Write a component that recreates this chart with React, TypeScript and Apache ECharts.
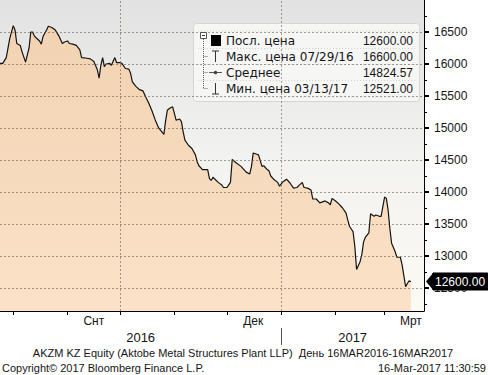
import React, { useEffect, useRef } from "react";
import * as echarts from "echarts";

// ---- data ----
const PRICE_DATES = [
  "2016-07-22", "2016-07-26", "2016-07-28", "2016-07-30", "2016-08-01", "2016-08-02", "2016-08-03", "2016-08-05",
  "2016-08-06", "2016-08-08", "2016-08-10", "2016-08-11", "2016-08-12", "2016-08-13", "2016-08-14", "2016-08-16",
  "2016-08-17", "2016-08-18", "2016-08-20", "2016-08-21", "2016-08-23", "2016-08-25", "2016-08-27", "2016-08-29",
  "2016-08-30", "2016-09-01", "2016-09-02", "2016-09-04", "2016-09-06", "2016-09-08", "2016-09-09", "2016-09-12",
  "2016-09-14", "2016-09-16", "2016-09-18", "2016-09-19", "2016-09-20", "2016-09-21", "2016-09-22", "2016-09-23",
  "2016-09-25", "2016-09-26", "2016-09-28", "2016-09-29", "2016-10-01", "2016-10-02", "2016-10-04", "2016-10-06",
  "2016-10-07", "2016-10-08", "2016-10-10", "2016-10-12", "2016-10-14", "2016-10-16", "2016-10-17", "2016-10-19",
  "2016-10-21", "2016-10-23", "2016-10-26", "2016-10-27", "2016-10-28", "2016-10-30", "2016-10-31", "2016-11-02",
  "2016-11-04", "2016-11-05", "2016-11-06", "2016-11-07", "2016-11-09", "2016-11-11", "2016-11-13", "2016-11-14",
  "2016-11-15", "2016-11-17", "2016-11-20", "2016-11-21", "2016-11-22", "2016-11-23", "2016-11-26", "2016-11-28",
  "2016-11-29", "2016-12-01", "2016-12-02", "2016-12-03", "2016-12-04", "2016-12-06", "2016-12-09", "2016-12-12",
  "2016-12-14", "2016-12-15", "2016-12-16", "2016-12-18", "2016-12-19", "2016-12-21", "2016-12-22", "2016-12-24",
  "2016-12-25", "2016-12-26", "2016-12-28", "2016-12-30", "2016-12-31", "2017-01-02", "2017-01-04", "2017-01-06",
  "2017-01-08", "2017-01-10", "2017-01-11", "2017-01-13", "2017-01-14", "2017-01-16", "2017-01-18", "2017-01-19",
  "2017-01-21", "2017-01-23", "2017-01-25", "2017-01-26", "2017-01-28", "2017-01-29", "2017-01-30", "2017-02-01",
  "2017-02-03", "2017-02-05", "2017-02-07", "2017-02-08", "2017-02-09", "2017-02-11", "2017-02-12", "2017-02-13",
  "2017-02-15", "2017-02-16", "2017-02-17", "2017-02-18", "2017-02-20", "2017-02-21", "2017-02-23", "2017-02-24",
  "2017-02-26", "2017-02-27", "2017-03-01", "2017-03-02", "2017-03-03", "2017-03-04", "2017-03-05", "2017-03-07",
  "2017-03-08", "2017-03-10", "2017-03-11", "2017-03-13", "2017-03-14", "2017-03-15", "2017-03-16",
];
const PRICE_VALUES = [
  16010, 16010, 16100, 16400, 16600, 16530, 16320, 16290,
  16190, 16030, 16250, 16500, 16500, 16440, 16410, 16360,
  16310, 16430, 16530, 16590, 16570, 16530, 16440, 16320,
  16340, 16360, 16320, 16310, 16290, 16220, 16100, 16090,
  16080, 16040, 15910, 15780, 15980, 16100, 15960, 16000,
  16010, 15980, 16100, 16020, 16020, 16010, 15930, 15920,
  15850, 15720, 15650, 15600, 15580, 15460, 15410, 15280,
  15130, 15000, 14900, 15120, 15280, 15320, 15330, 15120,
  15140, 15100, 14940, 14810, 14730, 14680, 14580, 14470,
  14410, 14350, 14350, 14210, 14180, 14230, 14150, 14110,
  14070, 14070, 14110, 14150, 14510, 14460, 14400, 14310,
  14280, 14400, 14610, 14590, 14580, 14400, 14410, 14350,
  14330, 14250, 14190, 14150, 14090, 14160, 14200, 14140,
  14060, 14070, 14100, 14150, 14070, 14060, 14030, 13890,
  13890, 13830, 13850, 13860, 13830, 13800, 13900, 13860,
  13810, 13750, 13670, 13560, 13460, 13380, 13150, 12790,
  12910, 13020, 13220, 13290, 13360, 13660, 13620, 13640,
  13620, 13620, 13920, 13900, 13720, 13430, 13200, 13070,
  12980, 12980, 12860, 12521, 12570, 12610, 12600,
];

const Y_TICKS = [12500, 13000, 13500, 14000, 14500, 15000, 15500, 16000, 16500];
const Y_MINOR_TICKS = [12250, 12750, 13250, 13750, 14250, 14750, 15250, 15750, 16250, 16750];
const MONTH_STARTS = ["2016-08-01", "2016-09-01", "2016-10-01", "2016-11-01", "2016-12-01", "2017-01-01", "2017-02-01", "2017-03-01"];
const QUARTER_STARTS = ["2016-10-01", "2017-01-01"];
const MONTH_LABEL_DATES = ["2016-09-16", "2016-12-16", "2017-03-16"];
const RU_MONTHS = ["Янв", "Фев", "Мрт", "Апр", "Май", "Июн", "Июл", "Авг", "Снт", "Окт", "Нбр", "Дек"];
const YEAR_BOUNDARY = "2017-01-01";

const STAT_LABELS = ["Посл. цена", "Макс. цена 07/29/16", "Среднее", "Мин. цена 03/13/17"];
const STAT_VALUES = ["12600.00", "16600.00", "14824.57", "12521.00"];

const FOOTER_TITLE = "AKZM KZ Equity (Aktobe Metal Structures Plant LLP)  День 16MAR2016-16MAR2017";
const FOOTER_COPYRIGHT = "Copyright© 2017 Bloomberg Finance L.P.";
const FOOTER_STAMP = "16-Mar-2017 11:30:59";

const Y_MIN = 12140;
const Y_MAX = 17000;

const ts = (s: string) => {
  const [y, m, d] = s.split("-").map(Number);
  return new Date(y, m - 1, d).getTime();
};
const X_MIN = new Date(2016, 6, 24, 10).getTime();
const X_MAX = new Date(2017, 2, 23, 12).getTime();

const FONT = "Tahoma, 'Liberation Sans', Arial, sans-serif";
const LEGEND_FONT = "'DejaVu Sans', Verdana, sans-serif";
const TXT = "#151515";

export default function App() {
  const ref = useRef<HTMLDivElement>(null);

  useEffect(() => {
    document.body.style.margin = "0";
    if (!ref.current) return;
    const chart = echarts.init(ref.current, null, { renderer: "svg" });

    const data = PRICE_DATES.map((d, i) => [ts(d), PRICE_VALUES[i]]);
    const last = PRICE_VALUES[PRICE_VALUES.length - 1];
    const yb = ts(YEAR_BOUNDARY);
    const yearMids = [(X_MIN + yb) / 2, (yb + X_MAX) / 2];

    const gridDash = { color: "rgba(95,80,65,0.55)", width: 1, type: [2, 2] as any };

    const rowY = [40.5, 56.5, 72.5, 88.5];
    const treeStroke = { stroke: "#666", lineWidth: 1 };

    const legendChildren: any[] = [
      {
        type: "rect",
        shape: { x: 193.5, y: 23.5, width: 226, height: 78, r: 3 },
        style: { fill: "rgba(246,246,245,0.94)", stroke: "#d6d6d6", lineWidth: 1 },
      },
      ...[31, 48.5, 64.5, 80.5, 97].map((y) => ({
        type: "line",
        shape: { x1: 198, y1: y, x2: 416, y2: y },
        style: { stroke: "#d2d2d2", lineWidth: 1, lineDash: [1, 2] },
      })),
      {
        type: "rect",
        shape: { x: 200.5, y: 32.5, width: 6, height: 6 },
        style: { fill: "#fff", stroke: "#555", lineWidth: 1 },
      },
      { type: "line", shape: { x1: 202, y1: 35.5, x2: 205, y2: 35.5 }, style: { stroke: "#333", lineWidth: 1 } },
      { type: "line", shape: { x1: 203.5, y1: 39, x2: 203.5, y2: 88.5 }, style: { ...treeStroke, lineDash: [1, 1] } },
      ...rowY.slice(1).map((y) => ({
        type: "line",
        shape: { x1: 203.5, y1: y, x2: 208, y2: y },
        style: { ...treeStroke, lineDash: [1, 1] },
      })),
      { type: "rect", shape: { x: 211, y: 35, width: 10, height: 11 }, style: { fill: "#000" } },
      { type: "line", shape: { x1: 212, y1: 51, x2: 219, y2: 51 }, style: { stroke: "#333", lineWidth: 1 } },
      { type: "line", shape: { x1: 215.5, y1: 51, x2: 215.5, y2: 62 }, style: { stroke: "#333", lineWidth: 1 } },
      { type: "line", shape: { x1: 209, y1: 72.5, x2: 222, y2: 72.5 }, style: { stroke: "#555", lineWidth: 1 } },
      { type: "circle", shape: { cx: 215.5, cy: 72.5, r: 1.8 }, style: { fill: "#444" } },
      { type: "line", shape: { x1: 215.5, y1: 83, x2: 215.5, y2: 94 }, style: { stroke: "#333", lineWidth: 1 } },
      { type: "line", shape: { x1: 212, y1: 94, x2: 219, y2: 94 }, style: { stroke: "#333", lineWidth: 1 } },
      ...STAT_LABELS.map((t, i) => ({
        type: "text",
        x: 226,
        y: rowY[i],
        style: { text: t, fill: TXT, fontSize: 12, fontFamily: LEGEND_FONT, textAlign: "left", textVerticalAlign: "middle" },
      })),
      ...STAT_VALUES.map((t, i) => ({
        type: "text",
        x: 413,
        y: rowY[i],
        style: { text: t, fill: TXT, fontSize: 12, fontFamily: FONT, textAlign: "right", textVerticalAlign: "middle" },
      })),
    ];

    const option: any = {
      animation: false,
      backgroundColor: "#ffffff",
      grid: {
        left: 0,
        right: 64,
        top: 0,
        bottom: 64,
        show: true,
        borderWidth: 0,
        outerBoundsMode: "none",
        containLabel: false,
        backgroundColor: new echarts.graphic.LinearGradient(0, 0, 0, 1, [
          { offset: 0, color: "#e2e2e2" },
          { offset: 0.5, color: "#f2f2f0" },
          { offset: 1, color: "#fdfaf4" },
        ]),
      },
      xAxis: [
        {
          type: "value",
          min: X_MIN,
          max: X_MAX,
          position: "bottom",
          axisLine: { show: true, onZero: false, lineStyle: { color: "#000", width: 1 } },
          axisTick: { show: true, customValues: MONTH_STARTS.map(ts), length: 4, lineStyle: { color: "#000" } },
          axisLabel: {
            show: true,
            customValues: MONTH_LABEL_DATES.map(ts),
            formatter: (v: number) => RU_MONTHS[new Date(v).getMonth()],
            margin: 4,
            fontSize: 12,
            fontFamily: FONT,
            color: TXT,
          },
          splitLine: { show: false },
        },
        {
          type: "value",
          min: X_MIN,
          max: X_MAX,
          position: "bottom",
          offset: 17,
          axisLine: { show: false, onZero: false },
          axisTick: { show: true, customValues: [yb], length: 17, lineStyle: { color: "#555" } },
          axisLabel: {
            show: true,
            customValues: yearMids,
            formatter: (v: number) => String(new Date(v).getFullYear()),
            margin: 3,
            fontSize: 13,
            fontFamily: FONT,
            color: TXT,
          },
          splitLine: { show: false },
        },
      ],
      yAxis: [
        {
          type: "value",
          position: "right",
          min: Y_MIN,
          max: Y_MAX,
          axisLine: { show: true, onZero: false, lineStyle: { color: "#000", width: 1 } },
          axisTick: { show: true, customValues: Y_TICKS, length: 5, lineStyle: { color: "#000", width: 2 } },
          axisLabel: {
            show: true,
            customValues: Y_TICKS,
            formatter: (v: number) => String(v),
            margin: 10,
            fontSize: 12,
            fontFamily: FONT,
            color: TXT,
          },
          splitLine: { show: false },
        },
        {
          type: "value",
          position: "right",
          min: Y_MIN,
          max: Y_MAX,
          axisLine: { show: false, onZero: false },
          axisTick: { show: true, customValues: Y_MINOR_TICKS, length: 3, lineStyle: { color: "#000", width: 1 } },
          axisLabel: { show: false },
          splitLine: { show: false },
        },
      ],
      series: [
        {
          type: "line",
          xAxisIndex: 0,
          yAxisIndex: 0,
          data,
          symbol: "none",
          clip: true,
          lineStyle: { color: "#141414", width: 1.2 },
          areaStyle: {
            opacity: 1,
            color: new echarts.graphic.LinearGradient(0, 0, 0, 1, [
              { offset: 0, color: "#f2d2b2" },
              { offset: 1, color: "#fbe2c8" },
            ]),
          },
          emphasis: { disabled: true },
          markLine: {
            silent: true,
            symbol: ["none", "none"],
            label: { show: false },
            lineStyle: gridDash,
            emphasis: { disabled: true },
            data: [
              ...Y_TICKS.map((v) => ({ yAxis: v })),
              ...QUARTER_STARTS.map((d) => ({ xAxis: ts(d) })),
              {
                yAxis: last,
                lineStyle: { color: "rgba(0,0,0,0)", width: 0 },
                label: {
                  show: true,
                  position: "end",
                  distance: 8,
                  formatter: () => last.toFixed(2),
                  color: "#fff",
                  backgroundColor: "#000",
                  borderRadius: 2,
                  padding: [3, 4, 3, 3],
                  fontSize: 12,
                  fontFamily: FONT,
                },
              },
            ],
          },
          markPoint: {
            silent: true,
            label: { show: false },
            data: [
              {
                coord: [X_MAX, last],
                symbol: "triangle",
                symbolSize: [19, 8],
                symbolRotate: 90,
                symbolOffset: [6, 0],
                itemStyle: { color: "#000" },
              },
            ],
          },
        },
      ],
      graphic: [
        { type: "group", z: 100, children: legendChildren },
        {
          type: "text",
          z: 100,
          x: 243,
          y: 353,
          style: { text: FOOTER_TITLE, fill: TXT, fontSize: 11, fontFamily: FONT, textAlign: "center", textVerticalAlign: "middle" },
        },
        {
          type: "text",
          z: 100,
          x: 2,
          y: 368,
          style: { text: FOOTER_COPYRIGHT, fill: TXT, fontSize: 11, fontFamily: FONT, textAlign: "left", textVerticalAlign: "middle" },
        },
        {
          type: "text",
          z: 100,
          x: 486,
          y: 368,
          style: { text: FOOTER_STAMP, fill: TXT, fontSize: 11, fontFamily: FONT, textAlign: "right", textVerticalAlign: "middle" },
        },
      ],
    };

    chart.setOption(option);
    return () => chart.dispose();
  }, []);

  return <div ref={ref} style={{ width: 488, height: 375 }} />;
}
